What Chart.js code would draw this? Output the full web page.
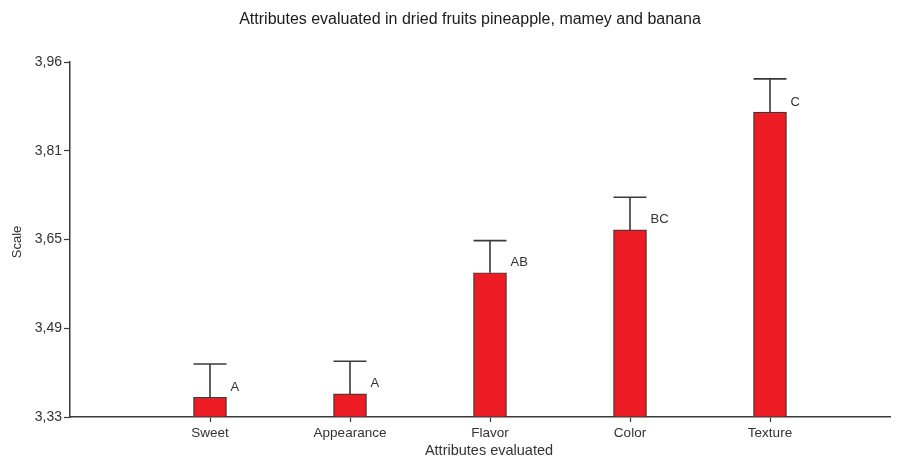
<!DOCTYPE html>
<html>
<head>
<meta charset="utf-8">
<script src="https://cdn.jsdelivr.net/npm/chart.js@4.4.1/dist/chart.umd.min.js"></script>
<style>
  html, body { margin: 0; padding: 0; background: #ffffff; }
  #wrap { width: 899px; height: 460px; position: relative; }
</style>
</head>
<body>
<div id="wrap"><canvas id="c" width="899" height="460"></canvas></div>
<script>
const categories = ["Sweet", "Appearance", "Flavor", "Color", "Texture"];
const means = [3.365, 3.371, 3.586, 3.662, 3.871];
const errors = [0.059, 0.058, 0.057, 0.058, 0.059];
const groupLetters = ["A", "A", "AB", "BC", "C"];
const yTickLabels = ["3,33", "3,49", "3,65", "3,81", "3,96"];
const yMin = 3.33, yMax = 3.96;
const titleText = "Attributes evaluated in dried fruits pineapple, mamey and banana";
const xTitle = "Attributes evaluated";
const yTitle = "Scale";

const FONT = "'Liberation Sans', Arial, sans-serif";
const TXT = "#333333";

const points = categories.map((c, i) => ({ x: i + 1, y: means[i] }));

const extras = {
  id: "extras",
  afterDatasetsDraw(chart) {
    const ctx = chart.ctx;
    const meta = chart.getDatasetMeta(0);
    const ys = chart.scales.y;
    ctx.save();
    meta.data.forEach((bar, i) => {
      const xc = bar.x;
      const top = bar.y;
      const errTop = ys.getPixelForValue(means[i] + errors[i]);
      const half = bar.width / 2;
      ctx.strokeStyle = "#3a3a3a";
      ctx.lineWidth = 1.6;
      ctx.beginPath();
      ctx.moveTo(xc, top);
      ctx.lineTo(xc, errTop);
      ctx.moveTo(xc - half, errTop);
      ctx.lineTo(xc + half, errTop);
      ctx.stroke();
      ctx.fillStyle = TXT;
      ctx.font = "13px " + FONT;
      ctx.textAlign = "left";
      ctx.textBaseline = "middle";
      ctx.fillText(groupLetters[i], xc + half + 4, top - 10);
    });
    ctx.fillStyle = "#1a1a1a";
    ctx.font = "16px " + FONT;
    ctx.textAlign = "center";
    ctx.textBaseline = "middle";
    ctx.fillText(titleText, 470, 20);
    ctx.fillStyle = TXT;
    ctx.font = "14.5px " + FONT;
    ctx.fillText(xTitle, 489, 451);
    ctx.save();
    ctx.translate(17, 242);
    ctx.rotate(-Math.PI / 2);
    ctx.font = "13px " + FONT;
    ctx.fillText(yTitle, 0, 0);
    ctx.restore();
    ctx.restore();
  }
};

new Chart(document.getElementById("c"), {
  type: "bar",
  data: {
    datasets: [{
      data: points,
      backgroundColor: "#ED1C24",
      borderColor: "#3a3a3a",
      borderWidth: 1.2,
      borderSkipped: "bottom",
      barThickness: 33,
      base: yMin
    }]
  },
  options: {
    responsive: false,
    animation: false,
    devicePixelRatio: 1,
    layout: { padding: { top: 62, right: 9, left: 0, bottom: 0 } },
    plugins: { legend: { display: false }, tooltip: { enabled: false } },
    scales: {
      x: {
        type: "linear",
        offset: false,
        min: 0,
        max: 820 / 140,
        afterBuildTicks(scale) {
          scale.ticks = categories.map((c, i) => ({ value: i + 1 }));
        },
        afterFit(scale) { scale.height = 43; },
        ticks: {
          callback(v) { return categories[Math.round(v) - 1] || ""; },
          color: TXT,
          font: { family: FONT, size: 13.5 },
          padding: 3,
          maxRotation: 0,
          autoSkip: false
        },
        grid: {
          display: true,
          offset: false,
          drawOnChartArea: false,
          drawTicks: true,
          tickLength: 5,
          tickColor: "#3a3a3a",
          tickWidth: 1.2
        },
        border: { display: true, color: "#3a3a3a", width: 1.5 }
      },
      y: {
        min: yMin,
        max: yMax,
        afterBuildTicks(scale) {
          scale.ticks = yTickLabels.map((t, i) => ({ value: yMin + (yMax - yMin) * i / (yTickLabels.length - 1) }));
        },
        afterFit(scale) { scale.width = 70; },
        ticks: {
          callback(v, i) { return yTickLabels[i]; },
          color: TXT,
          font: { family: FONT, size: 14 },
          padding: 2
        },
        grid: {
          display: true,
          drawOnChartArea: false,
          drawTicks: true,
          tickLength: 6,
          tickColor: "#3a3a3a",
          tickWidth: 1.2
        },
        border: { display: true, color: "#3a3a3a", width: 1.5 }
      }
    }
  },
  plugins: [extras]
});
</script>
</body>
</html>
